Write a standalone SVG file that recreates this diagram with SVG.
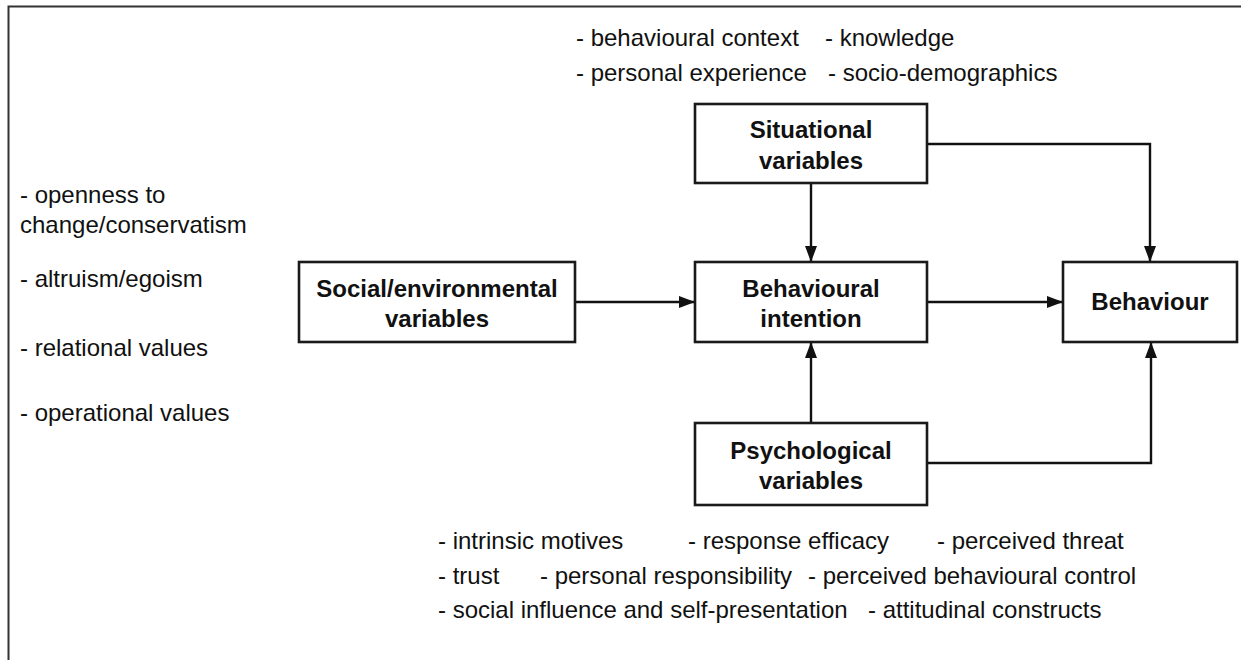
<svg xmlns="http://www.w3.org/2000/svg" width="1241" height="660" viewBox="0 0 1241 660">
<style>
.box{fill:#fff;stroke:#1a1a1a;stroke-width:2.6}
.lbl{font-family:"Liberation Sans",Arial,sans-serif;font-size:24px;font-weight:bold;fill:#111;text-anchor:middle}
.txt{font-family:"Liberation Sans",Arial,sans-serif;font-size:24px;fill:#111}
.con{fill:none;stroke:#111;stroke-width:2.4}
</style>
<defs>
<marker id="arr" markerUnits="userSpaceOnUse" markerWidth="16" markerHeight="12" refX="16" refY="6" orient="auto">
<path d="M0,0 L16,6 L0,12 z" fill="#111"/>
</marker>
</defs>
<rect width="1241" height="660" fill="#fff"/>
<path d="M8.5,660 V6.5 H1241" fill="none" stroke="#333" stroke-width="2"/>
<g id="connectors">
<path class="con" d="M811,183 V262" marker-end="url(#arr)"/>
<path class="con" d="M927,144 H1150 V262" marker-end="url(#arr)"/>
<path class="con" d="M575,302 H695" marker-end="url(#arr)"/>
<path class="con" d="M927,302 H1063" marker-end="url(#arr)"/>
<path class="con" d="M811,423 V342" marker-end="url(#arr)"/>
<path class="con" d="M927,463 H1151 V342" marker-end="url(#arr)"/>
</g>
<g id="situational">
<rect class="box" x="695" y="104" width="232" height="79"/>
<text class="lbl" x="811" y="138">Situational</text>
<text class="lbl" x="811" y="169">variables</text>
</g>
<g id="social">
<rect class="box" x="299" y="262" width="276" height="80"/>
<text class="lbl" x="437" y="297">Social/environmental</text>
<text class="lbl" x="437" y="327">variables</text>
</g>
<g id="intention">
<rect class="box" x="695" y="262" width="232" height="80"/>
<text class="lbl" x="811" y="297">Behavioural</text>
<text class="lbl" x="811" y="327">intention</text>
</g>
<g id="behaviour">
<rect class="box" x="1063" y="262" width="174" height="80"/>
<text class="lbl" x="1150" y="310">Behaviour</text>
</g>
<g id="psychological">
<rect class="box" x="695" y="423" width="232" height="82"/>
<text class="lbl" x="811" y="459">Psychological</text>
<text class="lbl" x="811" y="489">variables</text>
</g>
<g id="situational-items">
<text class="txt" x="576" y="46">- behavioural context</text>
<text class="txt" x="825" y="46">- knowledge</text>
<text class="txt" x="576" y="81">- personal experience</text>
<text class="txt" x="828" y="81">- socio-demographics</text>
</g>
<g id="value-items">
<text class="txt" x="20" y="203">- openness to</text>
<text class="txt" x="20" y="233">change/conservatism</text>
<text class="txt" x="20" y="287">- altruism/egoism</text>
<text class="txt" x="20" y="356">- relational values</text>
<text class="txt" x="20" y="421">- operational values</text>
</g>
<g id="psychological-items">
<text class="txt" x="438" y="549">- intrinsic motives</text>
<text class="txt" x="688" y="549">- response efficacy</text>
<text class="txt" x="937" y="549">- perceived threat</text>
<text class="txt" x="438" y="584">- trust</text>
<text class="txt" x="540" y="584">- personal responsibility</text>
<text class="txt" x="808" y="584">- perceived behavioural control</text>
<text class="txt" x="438" y="618">- social influence and self-presentation</text>
<text class="txt" x="868" y="618">- attitudinal constructs</text>
</g>
</svg>
